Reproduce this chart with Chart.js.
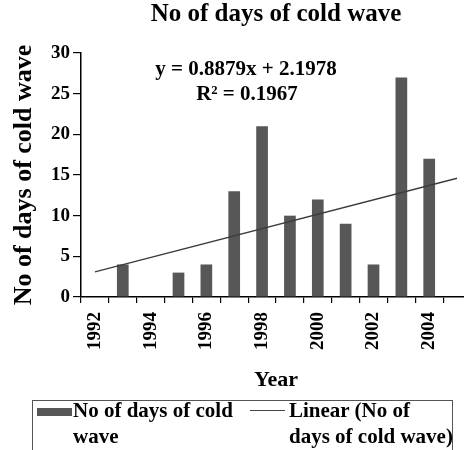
<!DOCTYPE html>
<html>
<head>
<meta charset="utf-8">
<title>No of days of cold wave</title>
<script src="https://cdn.jsdelivr.net/npm/chart.js@4.4.1/dist/chart.umd.min.js"></script>
<style>
  html, body { margin: 0; padding: 0; background: #fff; }
  #wrap { position: relative; width: 464px; height: 450px; overflow: hidden; }
  #coldChart { position: absolute; left: 0; top: 0; }

  /* legend box, cropped at the bottom like the reference */
  .legend-box {
    position: absolute; left: 32px; top: 400px; width: 421px; height: 80px;
    border: 1px solid #555; box-sizing: border-box;
  }
  .legend-text {
    position: absolute; top: 397px; margin: 0;
    font: bold 21px/26px "Liberation Serif", "Times New Roman", serif; color: #000;
    white-space: nowrap;
  }
  .swatch-bar { position: absolute; left: 37px; top: 408px; width: 35px; height: 8px; background: #575757; }
  .swatch-line { position: absolute; left: 250px; top: 410px; width: 35px; border-top: 1.5px solid #444; }
</style>
</head>
<body>
<div id="wrap">
  <canvas id="coldChart" width="490" height="450" style="width:490px;height:450px"></canvas>
  <div class="legend-box"></div>
  <div class="swatch-bar"></div>
  <p class="legend-text" style="left:73px">No of days of cold<br>wave</p>
  <div class="swatch-line"></div>
  <p class="legend-text" style="left:289px">Linear (No of<br>days of cold wave)</p>
</div>

<script>
/* ========== DATA ========== */
// last category (2005) is cut off at the right edge in the original
const years = ["1992", "1993", "1994", "1995", "1996", "1997", "1998",
               "1999", "2000", "2001", "2002", "2003", "2004", "2005"];
const coldWaveDays = [0, 4, 0, 3, 4, 13, 21, 10, 12, 9, 4, 27, 17, null];
// trend line read at its two ends: y = 0.8879x + 2.1978
const trendLine = [3.1, null, null, null, null, null, null,
                   null, null, null, null, null, null, 14.6];
const shownYears = ["1992", "1994", "1996", "1998", "2000", "2002", "2004"];
const equationLines = ["y = 0.8879x + 2.1978", "R\u00B2 = 0.1967"];
const yMin = 0;
const yMax = 30;
const yStep = 5;

const serif = '"Liberation Serif", "Times New Roman", serif';
Chart.defaults.font.family = serif;
Chart.defaults.font.weight = "bold";
Chart.defaults.color = "#000";

/* ========== TRENDLINE LABEL ========== */
const equationLabel = {
  id: "equationLabel",
  afterDatasetsDraw(chart) {
    const ctx = chart.ctx;
    ctx.save();
    ctx.font = "bold 21px " + serif;
    ctx.fillStyle = "#000";
    ctx.textAlign = "center";
    ctx.textBaseline = "alphabetic";
    ctx.fillText(equationLines[0], 246, 75);
    ctx.fillText(equationLines[1], 247, 100);
    ctx.restore();
  },
};

/* ========== CHART ========== */
(function initColdWaveChart() {
  const canvas = document.getElementById("coldChart");
  if (!canvas) return;
  if (typeof Chart === "undefined") return;

  new Chart(canvas.getContext("2d"), {
    data: {
      labels: years,
      datasets: [
        {
          type: "line",
          label: "Linear (No of days of cold wave)",
          data: trendLine,
          spanGaps: true,
          borderColor: "#3c3c3c",
          borderWidth: 1.3,
          pointRadius: 0,
          fill: false,
          order: 0,
        },
        {
          type: "bar",
          label: "No of days of cold wave",
          data: coldWaveDays,
          backgroundColor: "#575757",
          borderWidth: 0,
          barPercentage: 0.42,
          categoryPercentage: 1,
          order: 1,
        },
      ],
    },
    plugins: [equationLabel],
    options: {
      responsive: false,
      animation: false,
      layout: { padding: { left: 0, right: 19, top: 0, bottom: 56 } },
      plugins: {
        legend: { display: false },
        tooltip: { enabled: false },
        title: {
          display: true,
          text: "No of days of cold wave",
          fullSize: false,
          color: "#000",
          font: { size: 25, weight: "bold" },
          padding: { top: 0, bottom: 23 },
        },
      },
      scales: {
        x: {
          type: "category",
          offset: true,
          grid: {
            offset: true,
            drawOnChartArea: false,
            drawTicks: true,
            tickLength: 6,
            color: "#000",
            lineWidth: 1.2,
          },
          border: { display: true, color: "#000", width: 1.5 },
          ticks: {
            autoSkip: false,
            minRotation: 90,
            maxRotation: 90,
            padding: 9,
            color: "#000",
            font: { size: 19, weight: "bold" },
            callback: function (value) {
              const label = this.getLabelForValue(value);
              return shownYears.includes(label) ? label : "";
            },
          },
          title: {
            display: true,
            text: "Year",
            color: "#000",
            font: { size: 22, weight: "bold" },
            padding: { top: 0, bottom: 0 },
          },
          afterFit: (scale) => { scale.height = 97; },
        },
        y: {
          min: yMin,
          max: yMax,
          grid: {
            drawOnChartArea: false,
            drawTicks: true,
            tickLength: 8,
            color: "#000",
            lineWidth: 1.2,
          },
          border: { display: true, color: "#000", width: 1.5 },
          ticks: {
            stepSize: yStep,
            padding: 3,
            color: "#000",
            font: { size: 19, weight: "bold" },
          },
          title: {
            display: true,
            text: "No of days of cold wave",
            color: "#000",
            font: { size: 26, weight: "bold" },
            padding: { top: 9, bottom: 0 },
          },
          afterFit: (scale) => { scale.width = 81; },
        },
      },
    },
  });
})();
</script>
</body>
</html>
